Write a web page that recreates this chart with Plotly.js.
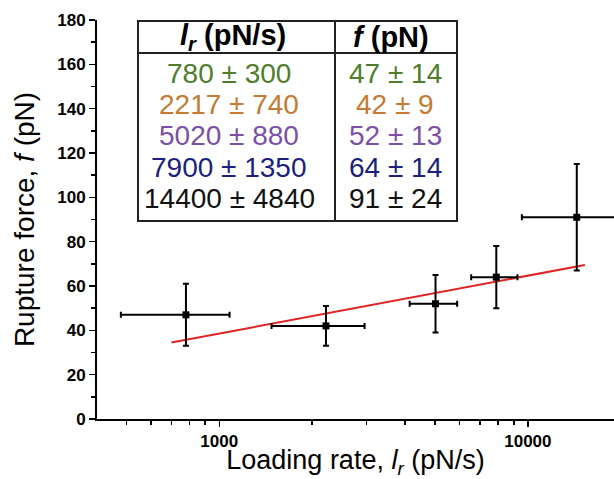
<!DOCTYPE html>
<html>
<head>
<meta charset="utf-8">
<script src="https://cdn.plot.ly/plotly-3.0.1.min.js"></script>
<style>html,body{margin:0;padding:0;background:#fff;}#chart{width:614px;height:479px;}</style>
</head>
<body>
<div id="chart"></div>
<script>
// ---- data ----
const loadingRate = [780, 2217, 5020, 7900, 14400];      // pN/s
const loadingRateErr = [300, 740, 880, 1350, 4840];      // pN/s
const ruptureForce = [47, 42, 52, 64, 91];               // pN
const ruptureForceErr = [14, 9, 13, 14, 24];             // pN
const fitRate = [700, 15300];                            // red fit line end points (x)
const fitForce = [34.5, 69.5];                           // red fit line end points (y)
const rowColors = ['#4f7d2b', '#c67a32', '#7b50a6', '#1c1f7e', '#111111'];
const headerLabels = ['<b><i>l<sub>r</sub></i> (pN/s)</b>', '<b><i>f</i> (pN)</b>'];
const xMajorTicks = [1000, 10000];
const xTickText = ['1000', '10000'];
const xMinorTicks = [400, 500, 600, 700, 800, 900, 2000, 3000, 4000, 5000, 6000, 7000, 8000, 9000, 20000];

// ---- layout helpers (pixel -> paper) ----
const L = 97, R = 614, T = 20, B = 419;
const px = x => (x - L) / (R - L);
const py = y => (B - y) / (B - T);
const FONT = 'Liberation Sans, Arial, Helvetica, sans-serif';

const traces = [
  {
    x: fitRate, y: fitForce, mode: 'lines', type: 'scatter',
    line: {color: '#e02424', width: 2}, hoverinfo: 'skip', showlegend: false
  },
  {
    x: loadingRate, y: ruptureForce, mode: 'markers', type: 'scatter',
    marker: {symbol: 'square', size: 7, color: '#000'},
    error_x: {type: 'data', array: loadingRateErr, visible: true, color: '#000', thickness: 2, width: 3},
    error_y: {type: 'data', array: ruptureForceErr, visible: true, color: '#000', thickness: 2, width: 3},
    showlegend: false, cliponaxis: false
  }
];

// table shapes
const tx0 = 138, tx1 = 457, tdiv = 335, ty0 = 21, ty1 = 221, thead = 53;
const shapes = [
  {type: 'rect', xref: 'paper', yref: 'paper', x0: px(tx0), x1: px(tx1), y0: py(ty1), y1: py(ty0),
   line: {color: '#222', width: 2}, fillcolor: 'rgba(255,255,255,0)'},
  {type: 'line', xref: 'paper', yref: 'paper', x0: px(tdiv), x1: px(tdiv), y0: py(ty1), y1: py(ty0),
   line: {color: '#222', width: 2}},
  {type: 'line', xref: 'paper', yref: 'paper', x0: px(tx0), x1: px(tx1), y0: py(thead), y1: py(thead),
   line: {color: '#222', width: 2}}
];

const annotations = [];
const col1 = 229, col2 = 395;
annotations.push({xref: 'paper', yref: 'paper', x: px(233), y: py(37), text: headerLabels[0], showarrow: false,
  xanchor: 'center', yanchor: 'middle', font: {family: FONT, size: 29, color: '#000'}});
annotations.push({xref: 'paper', yref: 'paper', x: px(391), y: py(37), text: headerLabels[1], showarrow: false,
  xanchor: 'center', yanchor: 'middle', font: {family: FONT, size: 29, color: '#000'}});
const rowY = [73.5, 104.5, 135.5, 167, 198];
for (let i = 0; i < loadingRate.length; i++) {
  annotations.push({xref: 'paper', yref: 'paper', x: px(col1), y: py(rowY[i]),
    text: loadingRate[i] + ' ± ' + loadingRateErr[i], showarrow: false, xanchor: 'center', yanchor: 'middle',
    font: {family: FONT, size: 28, color: rowColors[i]}});
  annotations.push({xref: 'paper', yref: 'paper', x: px(col2), y: py(rowY[i]),
    text: ruptureForce[i] + ' ± ' + ruptureForceErr[i], showarrow: false, xanchor: 'center', yanchor: 'middle',
    font: {family: FONT, size: 28, color: rowColors[i]}});
}

const layout = {
  width: 614, height: 479,
  margin: {l: L, r: 614 - R, t: T, b: 479 - B, pad: 0},
  paper_bgcolor: '#fff', plot_bgcolor: '#fff',
  font: {family: FONT, color: '#000'},
  showlegend: false,
  xaxis: {
    type: 'log', range: [2.6039, 4.279],
    showgrid: false, zeroline: false,
    showline: true, linecolor: '#000', linewidth: 2,
    ticks: 'outside', ticklen: 6, tickwidth: 1.5, tickcolor: '#000',
    tickmode: 'array', tickvals: xMajorTicks, ticktext: xTickText,
    tickfont: {family: FONT, size: 17, weight: 'bold', color: '#000'},
    minor: {tickmode: 'array', tickvals: xMinorTicks, ticks: 'outside', ticklen: 4, tickwidth: 1.5, tickcolor: '#000', showgrid: false},
    title: {text: 'Loading rate, <i>l<sub>r</sub></i> (pN/s)', font: {family: FONT, size: 27, color: '#000'}, standoff: 6},
    automargin: false
  },
  yaxis: {
    range: [0, 180],
    showgrid: false, zeroline: false,
    showline: true, linecolor: '#000', linewidth: 2,
    ticks: 'outside', ticklen: 6, tickwidth: 1.5, tickcolor: '#000',
    tickmode: 'linear', tick0: 0, dtick: 20,
    tickfont: {family: FONT, size: 17, weight: 'bold', color: '#000'},
    minor: {dtick: 10, ticks: 'outside', ticklen: 4, tickwidth: 1.5, tickcolor: '#000', showgrid: false},
    title: {text: 'Rupture force, <i>f</i> (pN)', font: {family: FONT, size: 28, color: '#000'}, standoff: 14},
    automargin: false
  },
  shapes: shapes,
  annotations: annotations
};

Plotly.newPlot('chart', traces, layout, {staticPlot: true, displayModeBar: false});
</script>
</body>
</html>
